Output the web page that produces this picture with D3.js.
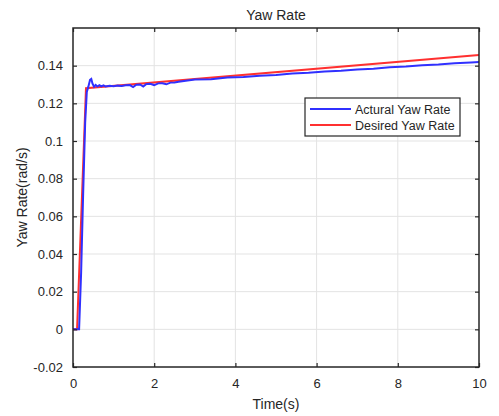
<!DOCTYPE html>
<html lang="en">
<head>
<meta charset="UTF-8">
<title>Yaw Rate</title>
<style>
  body { margin: 0; background: #fff; }
  text { font-family: "Liberation Sans", Arial, sans-serif; fill: #262626; }
</style>
</head>
<body>
<div id="chart"></div>
<script src="https://d3js.org/d3.v7.min.js"></script>
<script>
// data
const xTicks = [0, 2, 4, 6, 8, 10]
const yTicks = [-0.02, 0, 0.02, 0.04, 0.06, 0.08, 0.1, 0.12, 0.14]
const seriesNames = ["Actural Yaw Rate", "Desired Yaw Rate"]

const desiredT = [0, 0.1, 0.32, 10]
const desiredV = [0, 0, 0.128, 0.1457]

const actualT = [0, 0.15, 0.2, 0.25, 0.3, 0.34, 0.38, 0.42, 0.45, 0.48, 0.52, 0.56, 0.6, 0.65, 0.7, 0.75, 0.8, 0.9,
  1.0, 1.1, 1.2, 1.3, 1.4, 1.48, 1.56, 1.65, 1.73, 1.8, 1.9, 2.0, 2.1, 2.2, 2.3, 2.4, 2.5, 2.6,
  3.0, 3.4, 3.8, 4.2, 4.6, 5.0, 5.4, 5.8, 6.2, 6.6, 7.0, 7.4, 7.8, 8.2, 8.6, 9.0, 9.4, 9.8, 10.0]
const actualV = [0, 0, 0.03, 0.072, 0.11, 0.126, 0.129, 0.1325, 0.133, 0.1305, 0.1288, 0.1298, 0.1289, 0.1296, 0.129, 0.1295, 0.129, 0.1293,
  0.1291, 0.1294, 0.1292, 0.1296, 0.1297, 0.1286, 0.1299, 0.13, 0.1289, 0.1302, 0.1304, 0.1297, 0.1306, 0.1307, 0.1301, 0.131, 0.1311, 0.1314,
  0.1326, 0.1328, 0.1337, 0.134, 0.1347, 0.135, 0.1358, 0.1362, 0.1369, 0.1373, 0.138, 0.1384, 0.1391, 0.1395, 0.1402, 0.1406, 0.1413, 0.1417, 0.1419]

const MARGIN = { LEFT: 73, RIGHT: 20, TOP: 28, BOTTOM: 49 }
const W = 499, H = 416
const WIDTH = W - MARGIN.LEFT - MARGIN.RIGHT
const HEIGHT = H - MARGIN.TOP - MARGIN.BOTTOM

const svg = d3.select("#chart").append("svg")
  .attr("width", W).attr("height", H)

const g = svg.append("g").attr("transform", `translate(${MARGIN.LEFT},${MARGIN.TOP})`)

const x = d3.scaleLinear().domain([0, 10]).range([0, WIDTH])
const y = d3.scaleLinear().domain([-0.02, 0.16]).range([HEIGHT, 0])

// grid
g.append("g").selectAll("line").data(xTicks.slice(1, -1)).join("line")
  .attr("x1", d => x(d)).attr("x2", d => x(d)).attr("y1", 0).attr("y2", HEIGHT)
  .attr("stroke", "#e3e3e3").attr("stroke-width", 1)
g.append("g").selectAll("line").data(yTicks.slice(1)).join("line")
  .attr("y1", d => y(d)).attr("y2", d => y(d)).attr("x1", 0).attr("x2", WIDTH)
  .attr("stroke", "#e3e3e3").attr("stroke-width", 1)

// lines
const line = d3.line().x(d => x(d[0])).y(d => y(d[1]))
g.append("path").datum(desiredT.map((t, i) => [t, desiredV[i]]))
  .attr("d", line).attr("fill", "none").attr("stroke", "#ff3030").attr("stroke-width", 2)
g.append("path").datum(actualT.map((t, i) => [t, actualV[i]]))
  .attr("d", line).attr("fill", "none").attr("stroke", "#3030ff").attr("stroke-width", 2)

// axes, ticks inward like matlab
const fmt = d => d === 0 ? "0" : String(+d.toFixed(2))
const styleAxis = sel => {
  sel.select(".domain").remove()
  sel.selectAll(".tick line").attr("stroke", "#262626").attr("stroke-width", 1.2)
  sel.selectAll("text").style("font-size", "13px").attr("fill", "#262626")
}
g.append("g").attr("transform", `translate(0,${HEIGHT})`)
  .call(d3.axisBottom(x).tickValues(xTicks).tickSize(-4).tickPadding(12).tickFormat(fmt)).call(styleAxis)
g.append("g")
  .call(d3.axisLeft(y).tickValues(yTicks).tickSize(-4).tickPadding(10).tickFormat(fmt)).call(styleAxis)
g.append("g")
  .call(d3.axisTop(x).tickValues(xTicks).tickSize(-4).tickFormat("")).call(styleAxis)
g.append("g").attr("transform", `translate(${WIDTH},0)`)
  .call(d3.axisRight(y).tickValues(yTicks).tickSize(-4).tickFormat("")).call(styleAxis)

g.append("rect").attr("width", WIDTH).attr("height", HEIGHT)
  .attr("fill", "none").attr("stroke", "#262626").attr("stroke-width", 1.5)

// labels
svg.append("text").attr("x", MARGIN.LEFT + WIDTH / 2).attr("y", 20)
  .attr("text-anchor", "middle").style("font-size", "14px").text("Yaw Rate")
svg.append("text").attr("x", MARGIN.LEFT + WIDTH / 2).attr("y", 409)
  .attr("text-anchor", "middle").style("font-size", "14px").text("Time(s)")
svg.append("text").attr("transform", `translate(27,${MARGIN.TOP + HEIGHT / 2}) rotate(-90)`)
  .attr("text-anchor", "middle").style("font-size", "14px").text("Yaw Rate(rad/s)")

// legend
const lg = svg.append("g").attr("transform", "translate(305,98)")
lg.append("rect").attr("width", 155).attr("height", 38)
  .attr("fill", "#fff").attr("stroke", "#262626").attr("stroke-width", 1.2)
const colors = ["#3030ff", "#ff3030"]
seriesNames.forEach((name, i) => {
  const yy = 11 + i * 16
  lg.append("line").attr("x1", 5).attr("x2", 46).attr("y1", yy).attr("y2", yy)
    .attr("stroke", colors[i]).attr("stroke-width", 2)
  lg.append("text").attr("x", 50).attr("y", yy + 4.5).style("font-size", "12.5px").text(name)
})
</script>
</body>
</html>
